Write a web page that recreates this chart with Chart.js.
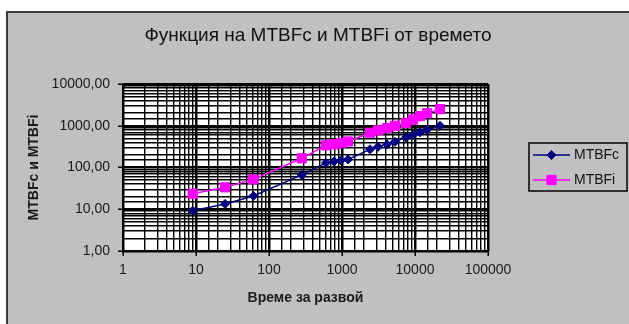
<!DOCTYPE html>
<html>
<head>
<meta charset="utf-8">
<script src="https://cdn.jsdelivr.net/npm/chart.js@4.4.1/dist/chart.umd.min.js"></script>
<style>
  html, body { margin: 0; padding: 0; background: #fff; }
  canvas { display: block; }
</style>
</head>
<body>
<canvas id="c" width="629" height="324"></canvas>
<script>
// Labels
const chartTitle = 'Функция на MTBFc и MTBFi от времето';
const xTitle = 'Време за развой';
const yTitle = 'MTBFc и MTBFi';
const seriesNames = ['MTBFc', 'MTBFi'];

// Development time (x) and the two MTBF series (y)
const devTime = [9, 25, 61, 281, 604, 777, 968, 1208, 2420, 3115, 4135, 5320, 7530, 9400, 11700, 14600, 22000];
const mtbfC   = [9.25, 13.4, 20.8, 66.5, 129, 140, 148, 156, 272, 312, 358, 411, 527, 605, 695, 798, 995];
const mtbfI   = [23.5, 33.5, 52, 166, 340, 360, 385, 420, 680, 780, 880, 1000, 1170, 1400, 1700, 2000, 2500];

// Axis ranges
const xRange = [1, 100000];
const yRange = [1, 10000];

const FONT = '"Liberation Sans", Arial, sans-serif';
const isPow10 = v => Math.abs(Math.log10(v) - Math.round(Math.log10(v))) < 1e-9;
const toPoints = ys => devTime.map((x, i) => ({ x, y: ys[i] }));

const colC = '#000080';
const colI = '#ff00ff';

const frame = {
  id: 'frame',
  beforeDraw(chart) {
    const { ctx, chartArea: a, width, height } = chart;
    ctx.save();
    ctx.fillStyle = '#fff';
    ctx.fillRect(0, 0, width, height);
    ctx.fillStyle = '#c0c0c0';
    ctx.fillRect(7, 12, width, height);
    ctx.strokeStyle = '#3a3a3a';
    ctx.lineWidth = 2;
    ctx.beginPath();
    ctx.moveTo(7, height + 2);
    ctx.lineTo(7, 12);
    ctx.lineTo(width + 2, 12);
    ctx.stroke();
    ctx.fillStyle = '#fff';
    ctx.fillRect(a.left, a.top, a.right - a.left, a.bottom - a.top);
    ctx.restore();
  },
  afterDraw(chart) {
    const { ctx } = chart;
    ctx.save();
    // chart title
    ctx.fillStyle = '#111';
    ctx.font = '19px ' + FONT;
    ctx.textAlign = 'center';
    ctx.textBaseline = 'middle';
    ctx.fillText(chartTitle, 318, 36);

    // legend
    const bx = 529, by = 143, bw = 98, bh = 48;
    ctx.strokeStyle = '#000';
    ctx.lineWidth = 1.5;
    ctx.strokeRect(bx, by, bw, bh);
    const rows = [
      { ds: chart.data.datasets[0], y: 155 },
      { ds: chart.data.datasets[1], y: 180 }
    ];
    rows.forEach(({ ds, y }) => {
      ctx.strokeStyle = ds.borderColor;
      ctx.lineWidth = ds.borderWidth;
      ctx.beginPath();
      ctx.moveTo(533, y);
      ctx.lineTo(570, y);
      ctx.stroke();
      ctx.fillStyle = ds.pointBackgroundColor;
      ctx.strokeStyle = ds.pointBorderColor;
      ctx.lineWidth = 1;
      Chart.helpers.drawPoint(ctx, {
        pointStyle: ds.pointStyle,
        radius: ds.pointRadius,
        rotation: 0,
        borderWidth: 1
      }, 551.5, y);
      ctx.fillStyle = '#111';
      ctx.font = '14px ' + FONT;
      ctx.textAlign = 'left';
      ctx.textBaseline = 'middle';
      ctx.fillText(ds.label, 574, y + 0.5);
    });
    ctx.restore();
  }
};

const gridWidth = ctx => (ctx.tick && isPow10(ctx.tick.value)) ? 2.5 : 1.4;
const tickColor = ctx => (ctx.tick && isPow10(ctx.tick.value)) ? '#000' : 'rgba(0,0,0,0)';

new Chart(document.getElementById('c'), {
  type: 'line',
  data: {
    datasets: [
      {
        label: seriesNames[0],
        data: toPoints(mtbfC),
        borderColor: colC,
        backgroundColor: colC,
        pointBackgroundColor: colC,
        pointBorderColor: colC,
        borderWidth: 1.5,
        pointStyle: 'rectRot',
        pointRadius: 4.5,
        pointBorderWidth: 1,
        tension: 0
      },
      {
        label: seriesNames[1],
        data: toPoints(mtbfI),
        borderColor: colI,
        backgroundColor: colI,
        pointBackgroundColor: colI,
        pointBorderColor: colI,
        borderWidth: 1.5,
        pointStyle: 'rect',
        pointRadius: 6.5,
        pointBorderWidth: 1,
        tension: 0
      }
    ]
  },
  options: {
    responsive: false,
    animation: false,
    devicePixelRatio: 1,
    layout: { padding: { left: 6, top: 84, right: 141, bottom: 0 } },
    plugins: {
      legend: { display: false },
      title: { display: false },
      tooltip: { enabled: false }
    },
    scales: {
      x: {
        type: 'logarithmic',
        min: xRange[0],
        max: xRange[1],
        afterFit(s) { s.height = 73; },
        border: { display: true, color: '#000', width: 1.5 },
        grid: {
          color: '#000',
          lineWidth: gridWidth,
          tickColor: tickColor,
          tickLength: 5,
          tickWidth: 1.5
        },
        ticks: {
          autoSkip: false,
          maxRotation: 0,
          padding: 6,
          color: '#1a1a1a',
          font: { family: FONT, size: 14 },
          callback: v => isPow10(v) ? String(Math.round(v)) : ''
        },
        title: {
          display: true,
          text: xTitle,
          color: '#1a1a1a',
          font: { family: FONT, size: 14, weight: 'bold' },
          padding: { top: 0, bottom: 17 }
        }
      },
      y: {
        type: 'logarithmic',
        min: yRange[0],
        max: yRange[1],
        afterFit(s) { s.width = 117; },
        border: { display: true, color: '#000', width: 1.5 },
        grid: {
          color: '#000',
          lineWidth: gridWidth,
          tickColor: tickColor,
          tickLength: 5,
          tickWidth: 1.5
        },
        ticks: {
          autoSkip: false,
          padding: 8,
          color: '#1a1a1a',
          font: { family: FONT, size: 14 },
          callback: v => isPow10(v) ? v.toFixed(2).replace('.', ',') : ''
        },
        title: {
          display: true,
          text: yTitle,
          color: '#1a1a1a',
          font: { family: FONT, size: 14, weight: 'bold' },
          padding: { top: 20, bottom: 0 }
        }
      }
    }
  },
  plugins: [frame]
});
</script>
</body>
</html>
